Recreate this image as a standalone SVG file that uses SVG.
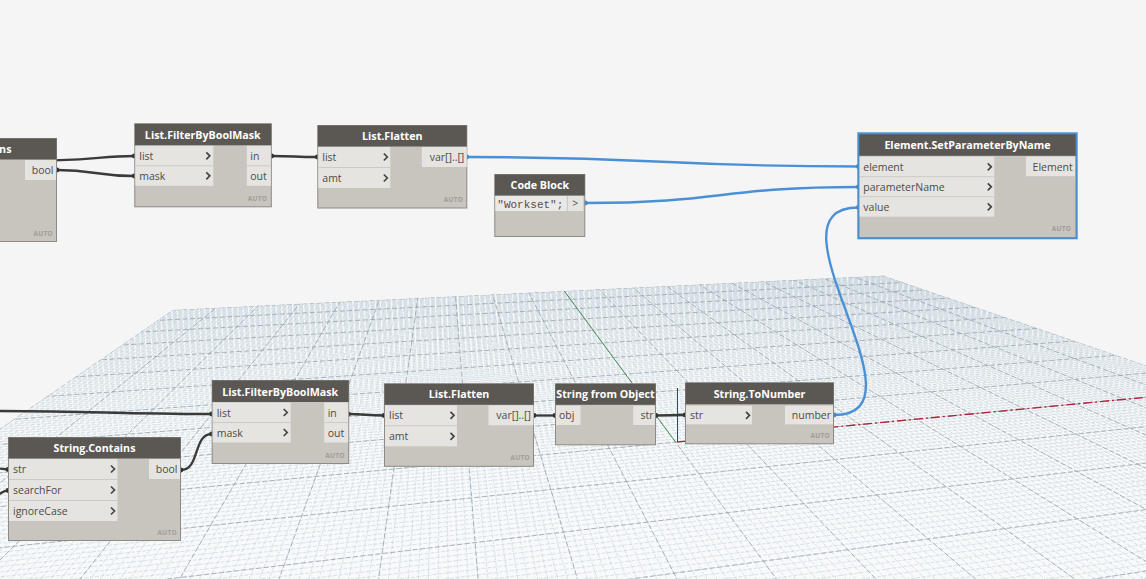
<svg xmlns="http://www.w3.org/2000/svg" width="1146" height="579" viewBox="0 0 1146 579">
<style>
.gm{fill:none;stroke:#c4d1da;stroke-width:.6;stroke-dasharray:4 1.5;vector-effect:non-scaling-stroke}
.gM{fill:none;stroke:#939fa9;stroke-width:.75;stroke-dasharray:5 2.5;vector-effect:non-scaling-stroke}
.nb{fill:#c8c4be;stroke:#8e8a85;stroke-width:1}
.nh{fill:#5b5854}
.pr{fill:#e6e4e0}
.sp{stroke:#cdc9c4;stroke-width:1}
.tt{font-family:"Open Sans","Liberation Sans",sans-serif;font-size:10.7px;font-weight:700;fill:#fff;text-anchor:middle}
.pl{font-family:"Open Sans","Liberation Sans",sans-serif;font-size:10.5px;fill:#4b4b4b}
.pe{text-anchor:end}
.au{font-family:"Open Sans","Liberation Sans",sans-serif;font-size:6.5px;font-weight:700;fill:#a19d98;text-anchor:end;letter-spacing:.3px}
.ch{fill:none;stroke:#454545;stroke-width:1.7}
.wd{fill:none;stroke:#3a3a3a;stroke-width:2.3}
.wb{fill:none;stroke:#4a90d6;stroke-width:2.4}
.dd{fill:#333}
.db{fill:#3f86cc}
.cd{font-family:"Liberation Mono",monospace;font-size:11px;fill:#5e4b45}
</style>
<defs>
<clipPath id="gc"><polygon points="173,310 883.1,275.7 1150,366.9 1150,585 -5,585 -5,432.3"/></clipPath>
<path id="c0" class="gm" d="M442 125L-248.8 600"/>
<g id="c1"><use href="#c0"/><use href="#c0" transform="matrix(1 0 .021909 1 -2.7386 0)"/></g>
<g id="c2"><use href="#c1"/><use href="#c1" transform="matrix(1 0 .043818 1 -5.4773 0)"/></g>
<g id="c3"><use href="#c2"/><use href="#c2" transform="matrix(1 0 .087636 1 -10.9545 0)"/></g>
<g id="c4"><use href="#c3"/><use href="#c3" transform="matrix(1 0 .175272 1 -21.909 0)"/></g>
<g id="c5"><use href="#c4"/><use href="#c4" transform="matrix(1 0 .350544 1 -43.818 0)"/></g>
<g id="c6"><use href="#c5"/><use href="#c5" transform="matrix(1 0 .701088 1 -87.636 0)"/></g>
<g id="c7"><use href="#c6"/><use href="#c6" transform="matrix(1 0 1.402176 1 -175.272 0)"/></g>
<g id="c8"><use href="#c7"/><use href="#c7" transform="matrix(1 0 2.804352 1 -350.544 0)"/></g>
<path id="C0" class="gM" d="M442 125L-248.8 600"/>
<g id="C1"><use href="#C0"/><use href="#C0" transform="matrix(1 0 .21909 1 -27.386 0)"/></g>
<g id="C2"><use href="#C1"/><use href="#C1" transform="matrix(1 0 .43818 1 -54.773 0)"/></g>
<g id="C3"><use href="#C2"/><use href="#C2" transform="matrix(1 0 .87636 1 -109.545 0)"/></g>
<g id="C4"><use href="#C3"/><use href="#C3" transform="matrix(1 0 1.75272 1 -219.09 0)"/></g>
<g id="C5"><use href="#C4"/><use href="#C4" transform="matrix(1 0 3.50544 1 -438.18 0)"/></g>
<path id="r0" class="gm" d="M4000 125L-14101.5 1000"/>
<g id="r1"><use href="#r0"/><use href="#r0" transform="matrix(1 0 .10205 1 -12.756 0)"/></g>
<g id="r2"><use href="#r1"/><use href="#r1" transform="matrix(1 0 .2041 1 -25.5125 0)"/></g>
<g id="r3"><use href="#r2"/><use href="#r2" transform="matrix(1 0 .4082 1 -51.025 0)"/></g>
<g id="r4"><use href="#r3"/><use href="#r3" transform="matrix(1 0 .8164 1 -102.05 0)"/></g>
<g id="r5"><use href="#r4"/><use href="#r4" transform="matrix(1 0 1.6328 1 -204.1 0)"/></g>
<g id="r6"><use href="#r5"/><use href="#r5" transform="matrix(1 0 3.2656 1 -408.2 0)"/></g>
<g id="r7"><use href="#r6"/><use href="#r6" transform="matrix(1 0 6.5312 1 -816.4 0)"/></g>
<g id="r8"><use href="#r7"/><use href="#r7" transform="matrix(1 0 13.0624 1 -1632.8 0)"/></g>
<path id="R0" class="gM" d="M4000 125L-14101.5 1000"/>
<g id="R1"><use href="#R0"/><use href="#R0" transform="matrix(1 0 1.0205 1 -127.5625 0)"/></g>
<g id="R2"><use href="#R1"/><use href="#R1" transform="matrix(1 0 2.041 1 -255.125 0)"/></g>
<g id="R3"><use href="#R2"/><use href="#R2" transform="matrix(1 0 4.082 1 -510.25 0)"/></g>
<g id="R4"><use href="#R3"/><use href="#R3" transform="matrix(1 0 8.164 1 -1020.5 0)"/></g>
</defs>
<rect width="1146" height="579" fill="#f5f5f5"/>
<g id="grid" clip-path="url(#gc)">
<rect x="-10" y="260" width="1170" height="330" fill="#f7f9fa"/>
<use href="#r8"/>
<use href="#c8"/>
<use href="#R4"/>
<use href="#C5"/>
<line x1="675.5" y1="442" x2="564.3" y2="291.1" stroke="#3f8a48" stroke-width="0.9"/>
<path d="M677 442L1150 396.9" fill="none" stroke="#b3233a" stroke-width="1.4" stroke-dasharray="9 3 2 3"/>
<line x1="677.5" y1="388" x2="677.5" y2="442" stroke="#2c3fa6" stroke-width="1"/>
</g>
<g id="connectors">
<path class="wd" d="M20 161C90 161 100 156 134.3 156"/>
<path class="wd" d="M57 170C95 170 96 176 134.3 176"/>
<path class="wd" d="M271.7 156C295 156 294 157 317.3 157"/>
<path class="wb" d="M466.7 157C662 157 662 166.5 858.3 166.5"/>
<path class="wb" d="M585.3 203C722 203 722 187 858.3 187"/>
<path class="wb" d="M834 415C934 415 758 207.5 858.3 207.5"/>
<path class="wd" d="M-5 411C100 411 110 414 211.7 414"/>
<path class="wd" d="M181 470C200 470 193 434 211.7 434"/>
<path class="wd" d="M348.4 414C366 414 366 415.5 384 415.5"/>
<path class="wd" d="M534 415.5L555 415.5"/>
<path class="wd" d="M656 415.5L685 415"/>
<path class="wd" d="M-5 468L8 469.5"/>
<path class="wd" d="M-5 496C2 494 2 490.5 8 490.5"/>
<circle class="dd" cx="134.3" cy="156" r="2.4"/><circle class="dd" cx="134.3" cy="176" r="2.4"/>
<circle class="dd" cx="57" cy="170" r="2.4"/><circle class="dd" cx="271.7" cy="156" r="2.4"/>
<circle class="dd" cx="317.3" cy="157" r="2.4"/><circle class="db" cx="466.7" cy="157" r="2.4"/>
<circle class="db" cx="585.3" cy="203" r="2.4"/><circle class="db" cx="858.3" cy="166.5" r="2.4"/>
<circle class="db" cx="858.3" cy="187" r="2.4"/><circle class="db" cx="858.3" cy="207.5" r="2.4"/>
<circle class="db" cx="834" cy="415" r="2.4"/>
<circle class="dd" cx="211.7" cy="414" r="2.4"/><circle class="dd" cx="211.7" cy="434" r="2.4"/>
<circle class="dd" cx="181" cy="470" r="2.4"/><circle class="dd" cx="348.4" cy="414" r="2.4"/>
<circle class="dd" cx="384" cy="415.5" r="2.4"/><circle class="dd" cx="534" cy="415.5" r="2.4"/>
<circle class="dd" cx="555" cy="415.5" r="2.4"/><circle class="dd" cx="656" cy="415.5" r="2.4"/>
<circle class="dd" cx="685" cy="415" r="2.4"/><circle class="dd" cx="8" cy="469.5" r="2.4"/>
<circle class="dd" cx="8" cy="490.5" r="2.4"/>
</g>
<g id="n-string-contains-top" transform="translate(-116,138)">
<rect class="nb" x="0.5" y="0.5" width="172" height="103"/>
<rect class="nh" x="0.5" y="0.5" width="172" height="21"/>
<text class="tt" x="86.5" y="15">String.Contains</text>
<rect class="pr" x="1" y="22" width="108.5" height="62"/>
<rect class="pr" x="141" y="22" width="31" height="20"/>
<text class="pl pe" x="169.5" y="36">bool</text>
<text class="au" x="169" y="98">AUTO</text>
</g>
<g id="n-string-contains" transform="translate(8,437)">
<rect class="nb" x="0.5" y="0.5" width="172" height="103"/>
<rect class="nh" x="0.5" y="0.5" width="172" height="21"/>
<text class="tt" x="86.5" y="15">String.Contains</text>
<rect class="pr" x="1" y="22" width="108.5" height="62"/>
<line class="sp" x1="1" y1="42.5" x2="109.5" y2="42.5"/>
<line class="sp" x1="1" y1="63.5" x2="109.5" y2="63.5"/>
<text class="pl" x="5" y="36">str</text>
<text class="pl" x="5" y="57">searchFor</text>
<text class="pl" x="5" y="78">ignoreCase</text>
<path class="ch" d="M103 28.5L106.5 32L103 35.5M103 49.5L106.5 53L103 56.5M103 70.5L106.5 74L103 77.5"/>
<rect class="pr" x="141" y="22" width="31" height="20"/>
<text class="pl pe" x="169.5" y="36">bool</text>
<text class="au" x="169" y="98">AUTO</text>
</g>
<g id="n-filter-top" transform="translate(134.3,123.3)">
<rect class="nb" x=".5" y=".5" width="136.5" height="83"/>
<rect class="nh" x=".5" y=".5" width="136.5" height="21.5"/>
<text class="tt" x="68.5" y="15.5">List.FilterByBoolMask</text>
<rect class="pr" x="1" y="22.5" width="78" height="40"/>
<line class="sp" x1="1" y1="42.5" x2="79" y2="42.5"/>
<text class="pl" x="5" y="36.5">list</text>
<text class="pl" x="5" y="56.5">mask</text>
<path class="ch" d="M72 29L75.5 32.5L72 36M72 49L75.5 52.5L72 56"/>
<rect class="pr" x="112.5" y="22.5" width="24" height="40"/>
<line class="sp" x1="112.5" y1="42.5" x2="136.5" y2="42.5"/>
<text class="pl" x="116" y="36.5">in</text>
<text class="pl" x="116" y="56.5">out</text>
<text class="au" x="133" y="77.5">AUTO</text>
</g>
<g id="n-filter-bottom" transform="translate(211.7,380)">
<rect class="nb" x=".5" y=".5" width="136.5" height="83"/>
<rect class="nh" x=".5" y=".5" width="136.5" height="21.5"/>
<text class="tt" x="68.5" y="15.5">List.FilterByBoolMask</text>
<rect class="pr" x="1" y="22.5" width="78" height="40"/>
<line class="sp" x1="1" y1="42.5" x2="79" y2="42.5"/>
<text class="pl" x="5" y="36.5">list</text>
<text class="pl" x="5" y="56.5">mask</text>
<path class="ch" d="M72 29L75.5 32.5L72 36M72 49L75.5 52.5L72 56"/>
<rect class="pr" x="112.5" y="22.5" width="24" height="40"/>
<line class="sp" x1="112.5" y1="42.5" x2="136.5" y2="42.5"/>
<text class="pl" x="116" y="36.5">in</text>
<text class="pl" x="116" y="56.5">out</text>
<text class="au" x="133" y="77.5">AUTO</text>
</g>
<g id="n-flatten-top" transform="translate(317.3,125)">
<rect class="nb" x=".5" y=".5" width="149" height="82.5"/>
<rect class="nh" x=".5" y=".5" width="149" height="21"/>
<text class="tt" x="75" y="15">List.Flatten</text>
<rect class="pr" x="1" y="22" width="72" height="41"/>
<line class="sp" x1="1" y1="42.5" x2="73" y2="42.5"/>
<text class="pl" x="5" y="36">list</text>
<text class="pl" x="5" y="57">amt</text>
<path class="ch" d="M66.5 28.5L70 32L66.5 35.5M66.5 49.5L70 53L66.5 56.5"/>
<rect class="pr" x="104.5" y="22" width="45" height="20"/>
<text class="pl pe" x="147" y="36">var[]..[]</text>
<text class="au" x="146" y="77">AUTO</text>
</g>
<g id="n-flatten-bottom" transform="translate(384,383.3)">
<rect class="nb" x=".5" y=".5" width="149" height="82.5"/>
<rect class="nh" x=".5" y=".5" width="149" height="21"/>
<text class="tt" x="75" y="15">List.Flatten</text>
<rect class="pr" x="1" y="22" width="72" height="41"/>
<line class="sp" x1="1" y1="42.5" x2="73" y2="42.5"/>
<text class="pl" x="5" y="36">list</text>
<text class="pl" x="5" y="57">amt</text>
<path class="ch" d="M66.5 28.5L70 32L66.5 35.5M66.5 49.5L70 53L66.5 56.5"/>
<rect class="pr" x="104.5" y="22" width="45" height="20"/>
<text class="pl pe" x="147" y="36">var[]..[]</text>
<text class="au" x="146" y="77">AUTO</text>
</g>
<g id="n-code-block" transform="translate(494.3,174)">
<rect class="nb" x=".5" y=".5" width="90" height="62"/>
<rect class="nh" x=".5" y=".5" width="90" height="21"/>
<text class="tt" x="45.5" y="15">Code Block</text>
<rect x="1" y="22" width="71.5" height="15" fill="#ebe9e6"/>
<rect class="pr" x="73.5" y="22" width="15.5" height="15"/>
<text class="cd" x="3" y="33.5">"Workset";</text>
<text class="pl" x="81" y="33" text-anchor="middle">&gt;</text>
</g>
<g id="n-set-parameter" transform="translate(858.3,133.3)">
<rect class="nb" x=".5" y=".5" width="217.4" height="104"/>
<rect class="nh" x=".5" y=".5" width="217.4" height="22"/>
<text class="tt" x="109.2" y="16">Element.SetParameterByName</text>
<rect class="pr" x="1" y="23.4" width="135" height="60"/>
<line class="sp" x1="1" y1="43.4" x2="136" y2="43.4"/>
<line class="sp" x1="1" y1="63.4" x2="136" y2="63.4"/>
<text class="pl" x="5" y="37.5">element</text>
<text class="pl" x="5" y="57.5">parameterName</text>
<text class="pl" x="5" y="78">value</text>
<path class="ch" d="M129.5 30L133 33.5L129.5 37M129.5 50L133 53.5L129.5 57M129.5 70L133 73.5L129.5 77"/>
<rect class="pr" x="167.7" y="23.4" width="49" height="19.5"/>
<text class="pl pe" x="214.5" y="37.5">Element</text>
<text class="au" x="213" y="98">AUTO</text>
<rect x="0" y="0" width="218.4" height="105" fill="none" stroke="#4a8fd0" stroke-width="2"/>
</g>
<g id="n-string-from-object" transform="translate(555,383.3)">
<rect class="nb" x=".5" y=".5" width="100" height="61"/>
<rect class="nh" x=".5" y=".5" width="100" height="21"/>
<text class="tt" x="50.5" y="15">String from Object</text>
<rect class="pr" x="1" y="22.4" width="24.5" height="19.3"/>
<text class="pl" x="4" y="36">obj</text>
<rect class="pr" x="78.3" y="22.4" width="21.5" height="19.3"/>
<text class="pl pe" x="98.5" y="36">str</text>
</g>
<g id="n-string-to-number" transform="translate(685,382.3)">
<rect class="nb" x=".5" y=".5" width="148" height="61"/>
<rect class="nh" x=".5" y=".5" width="148" height="21.5"/>
<text class="tt" x="74.5" y="15.5">String.ToNumber</text>
<rect class="pr" x="1" y="23.4" width="66" height="18.6"/>
<text class="pl" x="5" y="37">str</text>
<path class="ch" d="M61 29.5L64.5 33L61 36.5"/>
<rect class="pr" x="100" y="23.4" width="48" height="18.6"/>
<text class="pl pe" x="146" y="37">number</text>
<text class="au" x="145" y="56">AUTO</text>
</g>
</svg>
